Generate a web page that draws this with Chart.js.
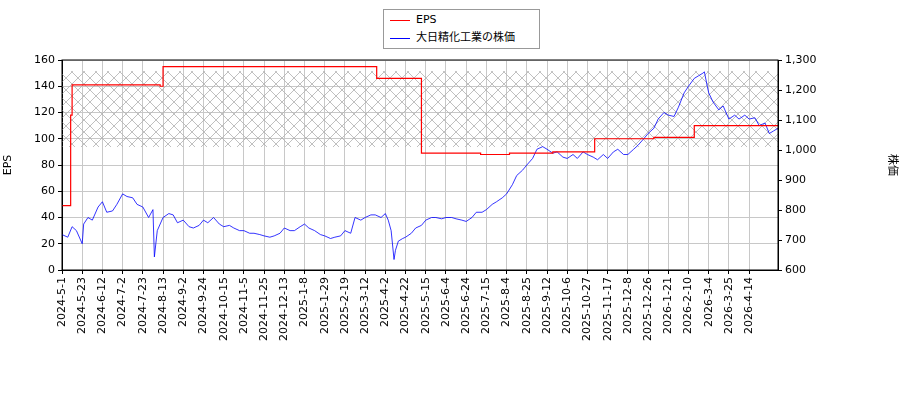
<!DOCTYPE html>
<html><head><meta charset="utf-8">
<script src="https://cdn.jsdelivr.net/npm/chart.js@4"></script>
<style>
body{margin:0;background:#fff;font-family:"DejaVu Sans";}
#wrap{position:relative;width:900px;height:400px;}
#legend{position:absolute;left:383px;top:9px;width:155px;height:38px;border:1px solid #999;background:#fff;font-size:11px;font-family:"DejaVu Sans","Noto Sans CJK JP";}
.row{position:absolute;left:6px;height:16px;line-height:16px;}
.sw{display:inline-block;width:20px;height:0;border-top:1.5px solid;vertical-align:middle;margin-right:6px;}
</style></head><body>
<div id="wrap"><canvas id="c" width="900" height="400"></canvas>
<div id="legend"><div class="row" style="top:2px"><span class="sw" style="border-color:red"></span>EPS</div>
<div class="row" style="top:20px"><span class="sw" style="border-color:blue"></span>大日精化工業の株価</div></div></div>
<script>
const tickLabels=["2024-5-1","2024-5-23","2024-6-12","2024-7-2","2024-7-23","2024-8-13","2024-9-2","2024-9-24","2024-10-15","2024-11-5","2024-11-25","2024-12-13","2025-1-8","2025-1-29","2025-2-19","2025-3-12","2025-4-2","2025-4-22","2025-5-15","2025-6-4","2025-6-24","2025-7-15","2025-8-4","2025-8-25","2025-9-12","2025-10-6","2025-10-27","2025-11-17","2025-12-8","2025-12-26","2026-1-21","2026-2-10","2026-3-4","2026-3-25","2026-4-14"];
const tickStep=14;
const lastIndex=496;
const epsX=[0,6,7,68,70,218,249,290,310,340,369,410,438,496];
const epsY=[49,118,141,140,155,146,89,88,89,90,100,101,110,110];
const priceX=[0,4,7,10,14,15,18,21,25,28,31,35,38,42,45,49,52,56,60,63,64,66,70,74,77,80,84,88,91,95,98,101,105,109,112,116,119,123,126,130,133,137,140,144,147,151,154,158,161,165,168,171,175,179,182,186,189,193,196,200,203,207,210,214,217,221,224,226,228,230,231,233,236,238,242,245,249,252,256,259,263,266,270,273,277,280,284,287,291,294,298,301,305,308,312,315,319,322,326,329,333,336,340,343,347,350,354,357,361,364,368,371,375,378,382,385,389,392,396,399,403,406,410,413,417,420,424,427,431,434,438,441,444,445,447,448,451,455,458,462,466,469,473,476,480,483,487,490,493,496];
const priceEPS=[27,25,33,30,20,35,40,38,48,52,44,45,50,58,56,55,50,48,40,46,10,30,40,43,42,36,38,33,32,34,38,36,40,35,33,34,32,30,30,28,28,27,26,25,26,28,32,30,30,33,35,32,30,27,26,24,25,26,30,28,40,38,40,42,42,40,43,38,30,8,15,22,24,25,28,32,34,38,40,40,39,40,40,39,38,37,40,44,44,46,50,52,55,58,65,72,76,80,85,92,94,92,89,90,86,85,88,85,90,88,86,84,88,85,90,92,88,88,92,95,100,104,108,115,120,118,117,124,135,140,146,148,150,151,140,135,128,122,125,115,118,115,118,115,116,110,112,104,106,108];
const hatchTop=1263, hatchBottom=1010;
const price=priceEPS.map(v=>600+v*4.375);

const pc=document.createElement('canvas');pc.width=12;pc.height=12;
const g=pc.getContext('2d');g.strokeStyle='#b0b0b0';g.lineWidth=0.8;
g.beginPath();g.moveTo(0,0);g.lineTo(12,12);g.moveTo(12,0);g.lineTo(0,12);g.stroke();
const hatch={id:'hatch',beforeDatasetsDraw(ch){const c=ch.ctx,a=ch.chartArea,y=ch.scales.y2;
 c.save();c.fillStyle=c.createPattern(pc,'repeat');const t=y.getPixelForValue(hatchTop),b=y.getPixelForValue(hatchBottom);
 c.fillRect(a.left,t,a.right-a.left,b-t);c.restore();},
 afterDraw(ch){const c=ch.ctx,a=ch.chartArea;c.save();c.strokeStyle='#000';c.lineWidth=1;c.strokeRect(a.left,a.top,a.right-a.left,a.bottom-a.top);c.restore();}};
Chart.defaults.font.family='"DejaVu Sans","Noto Sans CJK JP"';Chart.defaults.font.size=11;Chart.defaults.color='#000';
new Chart(document.getElementById('c'),{type:'line',
data:{datasets:[
 {label:'EPS',data:epsX.map((x,i)=>({x,y:epsY[i]})),yAxisID:'y',borderColor:'red',borderWidth:1.2,pointRadius:0,stepped:true},
 {label:'株価',data:priceX.map((x,i)=>({x,y:price[i]})),yAxisID:'y2',borderColor:'blue',borderWidth:0.8,pointRadius:0,tension:0}]},
options:{responsive:false,animation:false,layout:{padding:{top:60,left:0,right:0,bottom:0}},
 plugins:{legend:{display:false},tooltip:{enabled:false}},
 scales:{
 x:{type:'linear',min:0,max:lastIndex,afterBuildTicks(s){s.ticks=tickLabels.map((l,i)=>({value:i*tickStep}));},
  ticks:{autoSkip:false,maxRotation:90,minRotation:90,callback:(v,i)=>tickLabels[i]},
  grid:{color:'#c8c8c8',tickColor:'#000',tickLength:4},border:{color:'#000'},afterFit(s){s.height=130;}},
 y:{position:'left',min:0,max:160,ticks:{stepSize:20},title:{display:true,text:'EPS',padding:2},
  grid:{color:'#c8c8c8',tickColor:'#000',tickLength:4},border:{color:'#000'},afterFit(s){s.width=62;}},
 y2:{position:'right',min:600,max:1300,ticks:{stepSize:100},title:{display:true,text:'株価',padding:2},
  grid:{drawOnChartArea:false,tickColor:'#000',tickLength:4},border:{color:'#000'},afterFit(s){s.width=122;}}}},
plugins:[hatch]});
</script></body></html>
